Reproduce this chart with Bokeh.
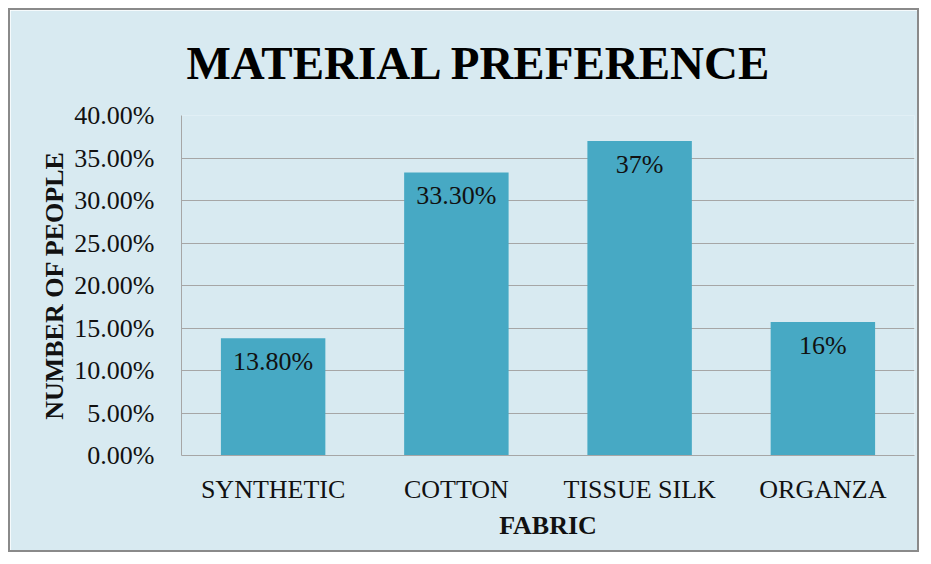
from bokeh.plotting import figure
from bokeh.models import ColumnDataSource, FixedTicker, NumeralTickFormatter, Title
from bokeh.core.properties import value
from bokeh.embed import file_html
from bokeh.resources import INLINE

categories = ["SYNTHETIC", "COTTON", "TISSUE SILK", "ORGANZA"]
shares = [0.138, 0.333, 0.37, 0.157]
bar_labels = ["13.80%", "33.30%", "37%", "16%"]
y_ticks = [0.0, 0.05, 0.10, 0.15, 0.20, 0.25, 0.30, 0.35, 0.40]
chart_title = "MATERIAL PREFERENCE"

BG = "#D8EAF1"
BAR = "#47A9C4"
GRID = "#A6A6A6"
FONT = "Liberation Serif"

src = ColumnDataSource(dict(cat=categories, val=shares, lab=bar_labels))

p = figure(x_range=categories, y_range=(0, 0.40), width=911, height=544,
           output_backend="svg", toolbar_location=None,
           min_border_left=171, min_border_right=7, min_border_top=105,
           min_border_bottom=99)
p.styles = {"border": "2px solid #8a8a8a", "margin-left": "8px", "margin-top": "8px"}
p.background_fill_color = BG
p.border_fill_color = BG
p.outline_line_color = None

p.title = Title(text=chart_title, align="left", offset=5,
                text_font=FONT, text_font_size="47px", text_font_style="bold",
                text_color="#000000", vertical_align="top", standoff=50)

p.vbar(x="cat", top="val", width=0.57, source=src, fill_color=BAR, line_color=None)
p.text(x="cat", y="val", text="lab", source=src, text_align="center",
       text_baseline="top", y_offset=9, text_font=value(FONT),
       text_font_size="26px", text_color="#111111")

p.xgrid.grid_line_color = None
p.ygrid.grid_line_color = GRID
p.ygrid.grid_line_width = 1
p.yaxis.ticker = FixedTicker(ticks=y_ticks)
p.yaxis.formatter = NumeralTickFormatter(format="0.00%")

for ax in (p.xaxis[0], p.yaxis[0]):
    ax.axis_line_color = GRID
    ax.major_tick_line_color = None
    ax.minor_tick_line_color = None
    ax.major_label_text_font = FONT
    ax.major_label_text_font_size = "26px"
    ax.major_label_text_color = "#111111"
    ax.axis_label_text_font = FONT
    ax.axis_label_text_font_size = "26px"
    ax.axis_label_text_font_style = "bold"
    ax.axis_label_text_color = "#111111"

p.yaxis.axis_label = "NUMBER OF PEOPLE"
p.yaxis.major_label_standoff = 21
p.yaxis.axis_label_standoff = 2
p.xaxis.axis_label = "FABRIC"
p.xaxis.major_label_standoff = 13
p.xaxis.axis_label_standoff = 4

open("out.html", "w").write(file_html(p, INLINE))
